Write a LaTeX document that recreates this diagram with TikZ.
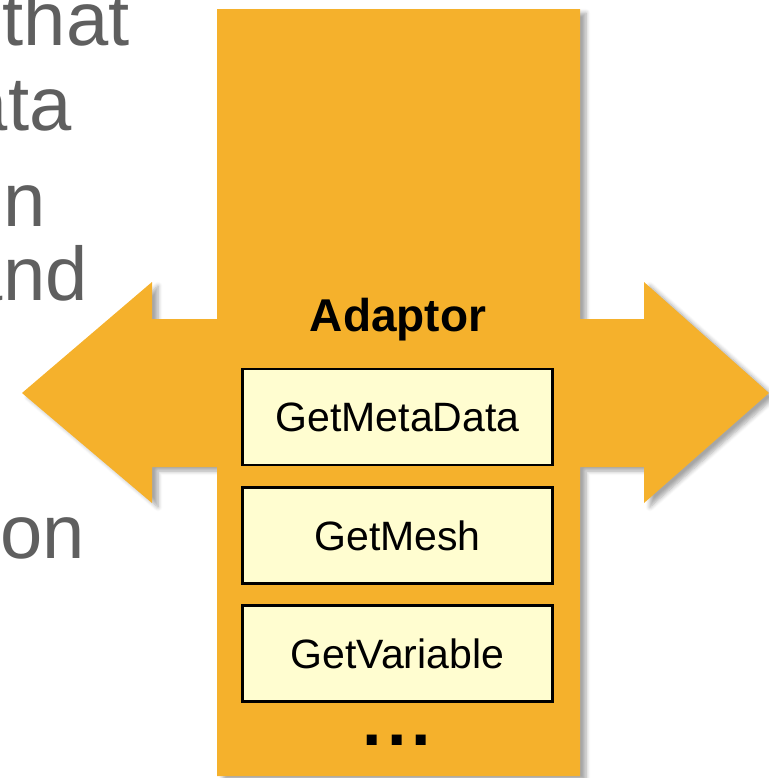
\documentclass[tikz,border=0pt]{standalone}
\usepackage{fontspec}
\setmainfont{Liberation Sans}
\usetikzlibrary{shadows.blur}
\definecolor{adaptorange}{HTML}{F5B12C}
\definecolor{boxyellow}{HTML}{FFFDD0}
\definecolor{slidegrey}{HTML}{5F5F5F}
\tikzset{
  funcbox/.style={draw=black,line width=1.3pt,fill=boxyellow,minimum width=155pt,minimum height=48pt,inner sep=0pt,font=\fontsize{20.5}{24}\selectfont},
  slidetext/.style={anchor=base east,inner sep=0pt,text=slidegrey,font=\fontsize{38}{44}\selectfont}
}
\begin{document}
\begin{tikzpicture}[x=0.5pt,y=-0.5pt]
%\draw[step=50,gray,very thin] (0,0) grid (769,778); %background grid
\clip (0,0) rectangle (769,778);

% cut-off slide text on the left
\node[slidetext] (w1) at (130,45) {that};
\node[slidetext] (w2) at (72,130) {ata};
\node[slidetext] (w3) at (46,226) {in};
\node[slidetext] (w4) at (88,300) {and};
\node[slidetext] (w5) at (85,558) {on};

% adaptor column with the double arrow
\fill[adaptorange,blur shadow={shadow xshift=3pt,shadow yshift=-2pt,shadow blur steps=6,shadow opacity=35}]
  (217,9) -- (580,9) -- (580,319) -- (644,319) -- (644,282) -- (769,393)
  -- (644,503) -- (644,467) -- (580,467) -- (580,776) -- (217,776)
  -- (217,467) -- (152,467) -- (152,503) -- (22,393) -- (152,282)
  -- (152,319) -- (217,319) -- cycle;

\node[font=\fontsize{23}{28}\selectfont\bfseries] (adaptor) at (398,320) {Adaptor};

\node[funcbox] (meta) at (397.5,417) {GetMetaData};
\node[funcbox] (mesh) at (397.5,535.5) {GetMesh};
\node[funcbox] (variable) at (397.5,653.5) {GetVariable};

\node[font=\fontsize{35}{40}\selectfont\bfseries,anchor=base] (dots) at (397,745) {.\kern2.5pt.\kern2.5pt.};

\end{tikzpicture}
\end{document}
